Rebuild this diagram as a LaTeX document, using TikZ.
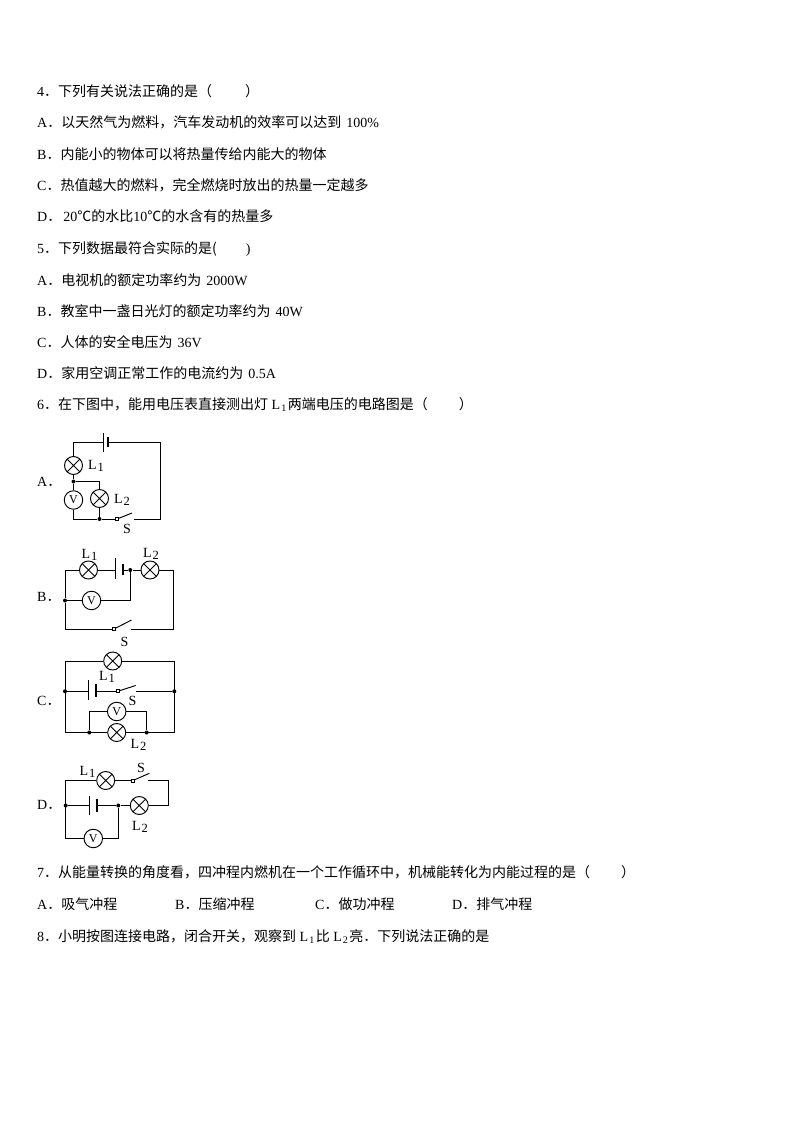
\documentclass[tikz,border=0pt]{standalone}
\usepackage{fontspec}
\setmainfont{Liberation Serif}
\newfontfamily\cjkfam{Noto Sans CJK SC}[Scale=1]
\newcommand{\cj}[1]{{\cjkfam\fontsize{14pt}{14pt}\selectfont #1}}
\newcommand{\Lsub}[1]{L\kern1pt\raisebox{-2pt}{\fontsize{10pt}{10pt}\selectfont #1}\kern1.5pt}
\newcommand{\Llab}[1]{L\kern1pt\raisebox{-2pt}{\fontsize{12.5pt}{12pt}\selectfont #1}}
\tikzset{
  txt/.style={anchor=base west,inner sep=0pt,font=\fontsize{14pt}{14pt}\selectfont},
  lbl/.style={inner sep=0pt,font=\fontsize{14pt}{14pt}\selectfont},
  wire/.style={line width=0.95pt,black},
  lamp/.style={circle,draw,line width=0.95pt,fill=white,inner sep=0pt,minimum size=18pt,
    path picture={\draw[line width=0.8pt] (path picture bounding box.north west)--(path picture bounding box.south east)
      (path picture bounding box.north east)--(path picture bounding box.south west);}},
  meter/.style={circle,draw,line width=0.95pt,fill=white,inner sep=0pt,minimum size=18.5pt,font=\fontsize{12pt}{12pt}\selectfont},
  dotj/.style={circle,fill=black,inner sep=0pt,minimum size=4pt},
  swpivot/.style={rectangle,draw,line width=0.7pt,fill=white,inner sep=0pt,minimum size=3pt},
  longplate/.style={line width=1pt},
  shortplate/.style={line width=2pt}
}
\begin{document}
\begin{tikzpicture}[x=1pt,y=-1pt]
\path[use as bounding box,fill=white] (0,0) rectangle (794,1123);
% question text
\node[txt] (t1) at (37,97) {4\cj{．下列有关说法正确的是（}\hspace{33pt}\cj{）}};
\node[txt] (t2) at (37,128) {A\cj{．以天然气为燃料，汽车发动机的效率可以达到}\hspace{5pt}100\%};
\node[txt] (t3) at (37,160) {B\cj{．内能小的物体可以将热量传给内能大的物体}};
\node[txt] (t4) at (37,191) {C\cj{．热值越大的燃料，完全燃烧时放出的热量一定越多}};
\node[txt] (t5) at (37,222) {D\cj{．}\hspace{2pt}20\cj{℃的水比}10\cj{℃的水含有的热量多}};
\node[txt] (t6) at (37,253) {5\cj{．下列数据最符合实际的是(}\hspace{29pt})};
\node[txt] (t7) at (37,285) {A\cj{．电视机的额定功率约为}\hspace{5pt}2000W};
\node[txt] (t8) at (37,316) {B\cj{．教室中一盏日光灯的额定功率约为}\hspace{5pt}40W};
\node[txt] (t9) at (37,347) {C\cj{．人体的安全电压为}\hspace{5pt}36V};
\node[txt] (t10) at (37,378) {D\cj{．家用空调正常工作的电流约为}\hspace{5pt}0.5A};
\node[txt] (t11) at (37,409) {6\cj{．在下图中，能用电压表直接测出灯} \Lsub{1}\cj{两端电压的电路图是（}\hspace{31pt}\cj{）}};
\node[txt] (t12) at (37,877) {7\cj{．从能量转换的角度看，四冲程内燃机在一个工作循环中，机械能转化为内能过程的是（}\hspace{31pt}\cj{）}};
\node[txt] (t13) at (37,909) {A\cj{．吸气冲程}};
\node[txt] (t14) at (175,909) {B\cj{．压缩冲程}};
\node[txt] (t15) at (315,909) {C\cj{．做功冲程}};
\node[txt] (t16) at (452,909) {D\cj{．排气冲程}};
\node[txt] (t17) at (37,941) {8\cj{．小明按图连接电路，闭合开关，观察到} \Lsub{1}\cj{比} \Lsub{2}\cj{亮．下列说法正确的是}};

% ---------- Circuit A
\node[lbl,anchor=west] (Aname) at (37,481.5) {A\cj{．}};
\node[lamp] (AL1) at (73.5,465.5) {};
\node[meter] (AV) at (73.5,500) {V};
\node[lamp] (AL2) at (99.5,498.5) {};
\node[dotj] (Aj1) at (73.5,481.5) {};
\node[dotj] (Aj2) at (99.5,519) {};
\node[swpivot] (Asw) at (117,519) {};
\coordinate (Atl) at (73.5,442.5);
\coordinate (Atr) at (160,442.5);
\coordinate (Abr) at (160,519);
\coordinate (Abl) at (73.5,519);
\coordinate (Ajr) at (99.5,481.5);
\coordinate (Ablade) at (132,513);
\coordinate (Acont) at (134,519);
\coordinate (Ab1) at (103.5,442.5);
\coordinate (Ab2) at (107.5,442.5);
\coordinate (Ab1t) at (103.5,433); \coordinate (Ab1b) at (103.5,452);
\coordinate (Ab2t) at (107.5,437); \coordinate (Ab2b) at (107.5,447);
\draw[wire] (AL1.north) -- (Atl) -- (Ab1);
\draw[wire] (Ab2) -- (Atr) -- (Abr) -- (Acont);
\draw[longplate] (Ab1t) -- (Ab1b);
\draw[shortplate] (Ab2t) -- (Ab2b);
\draw[wire] (AL1.south) -- (Aj1) -- (AV.north);
\draw[wire] (Aj1) -- (Ajr) -- (AL2.north);
\draw[wire] (AV.south) -- (Abl) -- (Aj2) -- (Asw.west);
\draw[wire] (AL2.south) -- (Aj2);
\draw[wire] (Asw) -- (Ablade);
\node[lbl] (AlL1) at (96,466) {\Llab{1}};
\node[lbl] (AlL2) at (122,499.5) {\Llab{2}};
\node[lbl] (AlS) at (127,529) {S};

% ---------- Circuit B
\node[lbl,anchor=west] (Bname) at (37,597) {B\cj{．}};
\node[lamp] (BL1) at (88.5,570) {};
\node[lamp] (BL2) at (150,570) {};
\node[meter] (BV) at (91.5,600.5) {V};
\node[dotj] (Bj1) at (65,600.5) {};
\node[dotj] (Bj2) at (130.3,570) {};
\node[swpivot] (Bsw) at (114,629) {};
\coordinate (Btl) at (65,570);
\coordinate (Btr) at (173.5,570);
\coordinate (Bbr) at (173.5,629);
\coordinate (Bbl) at (65,629);
\coordinate (Bvr) at (130.3,600.5);
\coordinate (Bblade) at (131.5,620);
\coordinate (Bcont) at (131,629);
\coordinate (Bb1) at (115.7,570);
\coordinate (Bb2) at (123,570);
\coordinate (Bb1t) at (115.7,558); \coordinate (Bb1b) at (115.7,579);
\coordinate (Bb2t) at (123,564); \coordinate (Bb2b) at (123,575);
\draw[wire] (Bj1) -- (Btl) -- (BL1.west);
\draw[wire] (BL1.east) -- (Bb1);
\draw[longplate] (Bb1t) -- (Bb1b);
\draw[shortplate] (Bb2t) -- (Bb2b);
\draw[wire] (Bb2) -- (Bj2) -- (BL2.west);
\draw[wire] (BL2.east) -- (Btr) -- (Bbr) -- (Bcont);
\draw[wire] (Bj1) -- (Bbl) -- (Bsw.west);
\draw[wire] (Bj1) -- (BV.west);
\draw[wire] (BV.east) -- (Bvr) -- (Bj2);
\draw[wire] (Bsw) -- (Bblade);
\node[lbl] (BlL1) at (89.5,555) {\Llab{1}};
\node[lbl] (BlL2) at (151,554) {\Llab{2}};
\node[lbl] (BlS) at (124.5,642) {S};

% ---------- Circuit C
\node[lbl,anchor=west] (Cname) at (37,700.5) {C\cj{．}};
\node[lamp] (CL1) at (112.7,661) {};
\node[lamp] (CL2) at (116.7,732.5) {};
\node[meter] (CV) at (116.7,711.5) {V};
\node[dotj] (Cjl) at (65,691.3) {};
\node[dotj] (Cjr) at (174.3,691.3) {};
\node[dotj] (Cj3) at (89.3,732.5) {};
\node[dotj] (Cj4) at (146.7,732.5) {};
\node[swpivot] (Csw) at (117.7,691.3) {};
\coordinate (Ctl) at (65,661);
\coordinate (Ctr) at (174.3,661);
\coordinate (Cbl) at (65,732.5);
\coordinate (Cbr) at (174.3,732.5);
\coordinate (Cvl) at (89.3,711.5);
\coordinate (Cvr) at (146.7,711.5);
\coordinate (Cblade) at (135.7,685.5);
\coordinate (Ccont) at (135.7,691.3);
\coordinate (Cb1) at (88.7,691.3);
\coordinate (Cb2) at (95.7,691.3);
\coordinate (Cb1t) at (88.7,680); \coordinate (Cb1b) at (88.7,700);
\coordinate (Cb2t) at (95.7,684.3); \coordinate (Cb2b) at (95.7,697.3);
\draw[wire] (Cbl) -- (Ctl) -- (CL1.west);
\draw[wire] (CL1.east) -- (Ctr) -- (Cbr) -- (CL2.east);
\draw[wire] (CL2.west) -- (Cbl);
\draw[wire] (Cjl) -- (Cb1);
\draw[longplate] (Cb1t) -- (Cb1b);
\draw[shortplate] (Cb2t) -- (Cb2b);
\draw[wire] (Cb2) -- (Csw.west);
\draw[wire] (Csw) -- (Cblade);
\draw[wire] (Ccont) -- (Cjr);
\draw[wire] (Cj3) -- (Cvl) -- (CV.west);
\draw[wire] (CV.east) -- (Cvr) -- (Cj4);
\node[lbl] (ClL1) at (107,677) {\Llab{1}};
\node[lbl] (ClL2) at (138.5,745) {\Llab{2}};
\node[lbl] (ClS) at (132.5,700.5) {S};

% ---------- Circuit D
\node[lbl,anchor=west] (Dname) at (37,805) {D\cj{．}};
\node[lamp] (DL1) at (105.7,780.5) {};
\node[lamp] (DL2) at (139.3,805.5) {};
\node[meter] (DV) at (93.3,838.5) {V};
\node[dotj] (Dj1) at (65.7,805.5) {};
\node[dotj] (Dj2) at (118.3,805.5) {};
\node[swpivot] (Dsw) at (133,780.5) {};
\coordinate (Dtl) at (65.7,780.5);
\coordinate (Dtr) at (168.3,780.5);
\coordinate (Dmr) at (168.3,805.5);
\coordinate (Dbl) at (65.7,838.5);
\coordinate (Dbr) at (118.3,838.5);
\coordinate (Dblade) at (149.3,773.3);
\coordinate (Dcont) at (148.3,780.5);
\coordinate (Db1) at (89.3,805.5);
\coordinate (Db2) at (97,805.5);
\coordinate (Db1t) at (89.3,795.7); \coordinate (Db1b) at (89.3,815);
\coordinate (Db2t) at (97,799.3); \coordinate (Db2b) at (97,811.7);
\draw[wire] (Dbl) -- (Dtl) -- (DL1.west);
\draw[wire] (DL1.east) -- (Dsw.west);
\draw[wire] (Dsw) -- (Dblade);
\draw[wire] (Dcont) -- (Dtr) -- (Dmr) -- (DL2.east);
\draw[wire] (DL2.west) -- (Dj2) -- (Db2);
\draw[longplate] (Db1t) -- (Db1b);
\draw[shortplate] (Db2t) -- (Db2b);
\draw[wire] (Db1) -- (Dj1);
\draw[wire] (Dbl) -- (DV.west);
\draw[wire] (DV.east) -- (Dbr) -- (Dj2);
\node[lbl] (DlL1) at (87.5,772) {\Llab{1}};
\node[lbl] (DlL2) at (140,827) {\Llab{2}};
\node[lbl] (DlS) at (141,768) {S};
\end{tikzpicture}
\end{document}
